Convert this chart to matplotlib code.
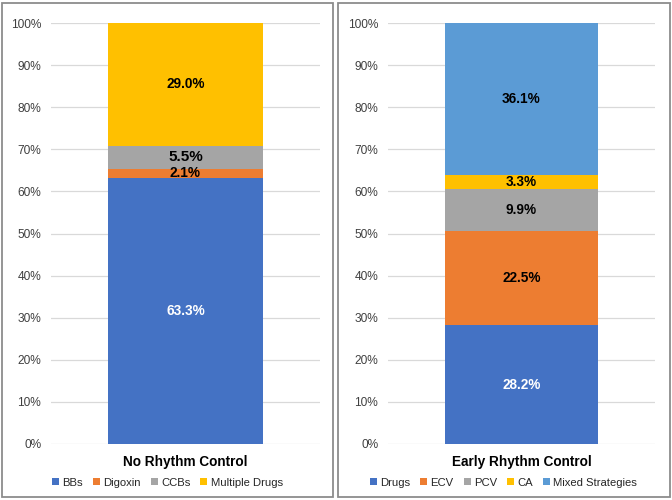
import matplotlib
matplotlib.use("Agg")
import matplotlib.pyplot as plt
from matplotlib.patches import Rectangle, Patch

plt.rcParams['font.family'] = ['Liberation Sans', 'DejaVu Sans']

# data
left_title = "No Rhythm Control"
left_labels = ["BBs", "Digoxin", "CCBs", "Multiple Drugs"]
left_values = [63.3, 2.1, 5.5, 29.0]
left_colors = ["#4472C4", "#ED7D31", "#A5A5A5", "#FFC000"]

right_title = "Early Rhythm Control"
right_labels = ["Drugs", "ECV", "PCV", "CA", "Mixed Strategies"]
right_values = [28.2, 22.5, 9.9, 3.3, 36.1]
right_colors = ["#4472C4", "#ED7D31", "#A5A5A5", "#FFC000", "#5B9BD5"]

yticks = list(range(0, 101, 10))

W, H = 672, 500
fig = plt.figure(figsize=(W / 100, H / 100), dpi=100)

# panel borders
for x0, x1 in [(2, 333), (338, 670)]:
    fig.patches.append(Rectangle((x0 / W, 3 / H), (x1 - x0) / W, 494 / H,
                                 transform=fig.transFigure, fill=False,
                                 edgecolor="#8c8c8c", linewidth=1.3))


def panel(ax, title, labels, values, colors, big_idx=None):
    bottom = 0
    for i, (lab, v, c) in enumerate(zip(labels, values, colors)):
        ax.bar(0, v, bottom=bottom, width=0.573, color=c, zorder=2)
        tc = "white" if i == 0 else "black"
        fs = 11 if i == big_idx else 9.8
        ax.text(0, bottom + v / 2, f"{v:.1f}%", ha="center", va="center",
                color=tc, fontsize=fs, fontweight="bold", zorder=3)
        bottom += v
    ax.set_xlim(-0.5, 0.5)
    ax.set_ylim(0, 100)
    ax.set_yticks(yticks)
    ax.set_yticklabels([f"{t}%" for t in yticks])
    ax.set_xticks([])
    ax.tick_params(axis="y", length=0, labelsize=8.6, labelcolor="#404040", pad=7)
    ax.grid(axis="y", color="#d9d9d9", linewidth=0.9, zorder=0)
    for s in ax.spines.values():
        s.set_visible(False)
    ax.text(0.5, -0.043, title, transform=ax.transAxes, ha="center", va="center",
            fontsize=9.8, fontweight="bold", color="black")
    # legend sits centred in the panel, not under the bar
    handles = [Patch(facecolor=c, edgecolor="none") for c in colors]
    ax.legend(handles, labels, loc="center", bbox_to_anchor=(0.433, -0.092),
              ncol=len(labels), frameon=False, fontsize=8.1,
              handlelength=0.6, handleheight=0.6, handletextpad=0.3,
              columnspacing=0.9, labelcolor="#262626")


ax1 = fig.add_axes([51 / W, 56 / H, 269 / W, 421 / H])
ax2 = fig.add_axes([388 / W, 56 / H, 267 / W, 421 / H])
panel(ax1, left_title, left_labels, left_values, left_colors, big_idx=2)
panel(ax2, right_title, right_labels, right_values, right_colors)

fig.savefig("out.png", dpi=100)
